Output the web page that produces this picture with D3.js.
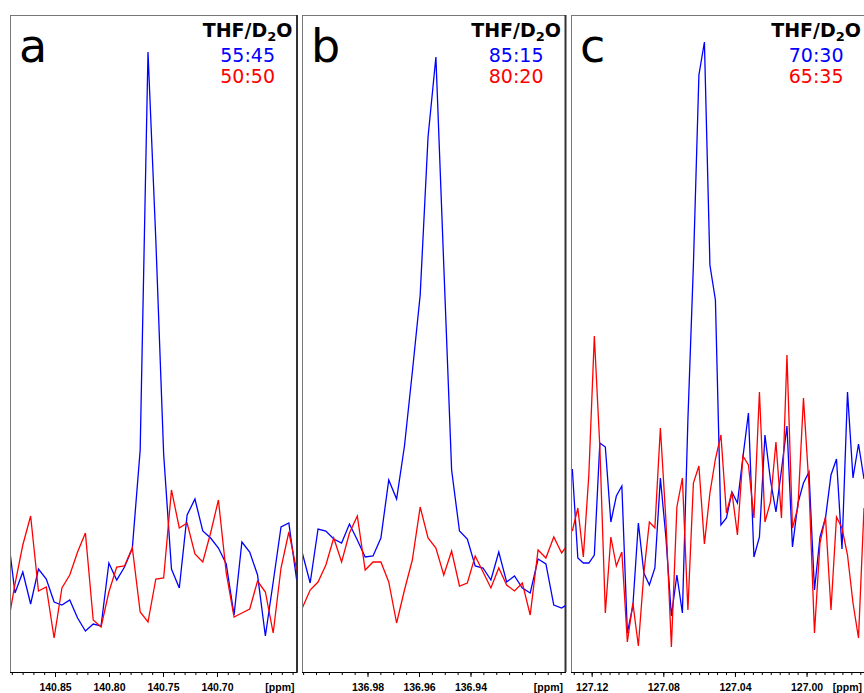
<!DOCTYPE html>
<html>
<head>
<meta charset="utf-8">
<script src="https://cdn.jsdelivr.net/npm/d3@7"></script>
<style>
    body { margin: 0; background: #fff; }
    svg { display: block; }
</style>
</head>
<body>
<div id="chart"></div>
<script>
const blueColor = "#0000ff";
const redColor = "#ff0000";

// panel a: 13C shift grid (first point, spacing in ppm) and intensities (a.u.)
const shiftStartA = 140.8943, shiftStepA = 0.007245;
const blueA = [143, 79, 100, 68, 103, 93, 70, 67, 72, 54, 41, 48, 46, 109, 92, 105, 124, 222, 620, 432,
    218, 103, 84, 157, 173, 141, 134, 124, 108, 57, 130, 120, 97, 36, 90, 145, 149, 92];
const redA = [43, 88, 127, 156, 81, 85, 34, 84, 97, 120, 139, 52, 45, 80, 105, 106, 124, 60, 50, 93,
    94, 182, 144, 149, 118, 110, 139, 172, 99, 55, 59, 63, 91, 80, 39, 104, 140, 102];
const ratiosA = ["55:45", "50:50"];
const labelsA = ["140.85", "140.80", "140.75", "140.70"];

// panel b
const shiftStartB = 137.00532, shiftStepB = 0.003052;
const blueB = [119, 89, 143, 141, 133, 129, 148, 132, 115, 116, 134, 192, 173, 226, 300, 377, 535, 615, 407, 202,
    141, 133, 106, 104, 92, 120, 90, 96, 84, 79, 113, 108, 67, 64, 69];
const redB = [64, 82, 90, 107, 134, 110, 139, 156, 102, 110, 110, 90, 49, 82, 112, 165, 134, 124, 97, 121,
    86, 89, 116, 100, 84, 104, 87, 81, 89, 57, 122, 114, 135, 119, 130];
const ratiosB = ["85:15", "80:20"];
const labelsB = ["136.98", "136.96", "136.94"];

// panel c
const shiftStartC = 127.1308, shiftStepC = 0.003073;
const blueC = [203, 114, 109, 109, 117, 229, 225, 150, 176, 186, 39, 66, 149, 99, 87, 104, 194, 135, 56, 97,
    59, 252, 407, 597, 630, 407, 372, 147, 154, 180, 169, 215, 259, 115, 135, 237, 192, 160, 202, 246,
    125, 169, 189, 200, 82, 135, 154, 197, 213, 123, 280, 194, 228, 193];
const redC = [141, 164, 115, 197, 336, 225, 59, 135, 106, 120, 30, 69, 26, 99, 150, 144, 244, 152, 25, 165,
    194, 62, 189, 206, 128, 179, 213, 237, 159, 180, 137, 216, 207, 154, 280, 150, 170, 230, 154, 317,
    144, 165, 274, 186, 39, 129, 155, 62, 155, 144, 117, 69, 34, 164];
const ratiosC = ["70:30", "65:35"];
const labelsC = ["127.12", "127.08", "127.04", "127.00"];

const width = 864, height = 693;
const plotTop = 15, plotBottom = 672;

const panels = [
    { name: "a", left: 10, right: 297.5, domain: [140.89167, 140.62546], minor: 0.01,
      start: shiftStartA, step: shiftStepA, blue: blueA, red: redA, ratios: ratiosA, labels: labelsA },
    { name: "b", left: 302, right: 566, domain: [137.00544, 136.90291], minor: 0.005,
      start: shiftStartB, step: shiftStepB, blue: blueB, red: redB, ratios: ratiosB, labels: labelsB },
    { name: "c", left: 571, right: 866, domain: [127.13154, 126.96682], minor: 0.005,
      start: shiftStartC, step: shiftStepC, blue: blueC, red: redC, ratios: ratiosC, labels: labelsC }
];

const svg = d3.select("#chart").append("svg")
    .attr("width", width)
    .attr("height", height);

const y = d3.scaleLinear().domain([0, 657]).range([plotBottom, plotTop]);

panels.forEach(p => {
    const g = svg.append("g");
    const x = d3.scaleLinear().domain(p.domain).range([p.left, p.right]);

    // frame
    g.append("rect")
        .attr("x", p.left + 0.5).attr("y", plotTop + 0.5)
        .attr("width", p.right - p.left - 1).attr("height", plotBottom - plotTop)
        .attr("fill", "none")
        .attr("stroke", "#777")
        .attr("stroke-width", 1);
    g.append("line")
        .attr("x1", p.right - 0.5).attr("x2", p.right - 0.5)
        .attr("y1", plotTop).attr("y2", plotBottom)
        .attr("stroke", "#333")
        .attr("stroke-width", 2);

    // clip the spectra to the frame
    const clipId = `clip-${p.name}`;
    svg.append("clipPath").attr("id", clipId)
        .append("rect")
        .attr("x", p.left + 1).attr("y", plotTop + 1)
        .attr("width", p.right - p.left - 2).attr("height", plotBottom - plotTop - 1);

    const line = d3.line()
        .x((d, i) => x(p.start - i * p.step))
        .y(d => y(d));

    g.append("path")
        .attr("clip-path", `url(#${clipId})`)
        .attr("d", line(p.blue))
        .attr("fill", "none")
        .attr("stroke", blueColor)
        .attr("stroke-width", 1.3);
    g.append("path")
        .attr("clip-path", `url(#${clipId})`)
        .attr("d", line(p.red))
        .attr("fill", "none")
        .attr("stroke", redColor)
        .attr("stroke-width", 1.3);

    // minor ticks
    const hi = Math.floor(p.domain[0] / p.minor + 1e-6);
    const lo = Math.ceil(p.domain[1] / p.minor - 1e-6);
    const minorTicks = d3.range(lo, hi + 1).map(k => k * p.minor);
    const majorTicks = p.labels.map(Number);

    const minorAxis = d3.axisBottom(x).tickValues(minorTicks).tickSize(3).tickFormat("");
    const gMinor = g.append("g").attr("transform", `translate(0,${plotBottom})`).call(minorAxis);
    gMinor.select(".domain").remove();
    gMinor.selectAll("line").attr("stroke", "#000");

    const majorAxis = d3.axisBottom(x).tickValues(majorTicks).tickSize(5).tickPadding(7)
        .tickFormat((d, i) => p.labels[i]);
    const gMajor = g.append("g").attr("transform", `translate(0,${plotBottom})`).call(majorAxis);
    gMajor.select(".domain")
        .attr("d", `M${p.left},0.5H${p.right}`)
        .attr("stroke", "#000");
    gMajor.selectAll("line").attr("stroke", "#000");
    gMajor.selectAll("text")
        .attr("font-family", "Liberation Sans, Arial, sans-serif")
        .attr("font-weight", "bold")
        .attr("font-size", "10.5px")
        .attr("fill", "#000");

    g.append("text")
        .attr("x", Math.min(p.right - 3, width - 2))
        .attr("y", 691)
        .style("text-anchor", "end")
        .attr("font-family", "Liberation Sans, Arial, sans-serif")
        .attr("font-weight", "bold")
        .attr("font-size", "10.5px")
        .text("[ppm]");

    // panel letter
    g.append("text")
        .attr("x", p.left + 9)
        .attr("y", 62)
        .attr("font-family", "DejaVu Sans, sans-serif")
        .attr("font-size", "46px")
        .attr("fill", "#000")
        .text(p.name);

    // solvent legend
    const thf = g.append("text")
        .attr("x", p.right - 5)
        .attr("y", 37)
        .style("text-anchor", "end")
        .attr("font-family", "DejaVu Sans, sans-serif")
        .attr("font-weight", "bold")
        .attr("font-size", "19px");
    thf.append("tspan").text("THF/D");
    thf.append("tspan").attr("font-size", "13px").attr("dy", 4).text("2");
    thf.append("tspan").attr("dy", -4).text("O");
    const bb = thf.node().getBBox();
    const cx = bb.x + bb.width / 2;

    [blueColor, redColor].forEach((c, i) => {
        g.append("text")
            .attr("x", cx)
            .attr("y", 62 + i * 21)
            .style("text-anchor", "middle")
            .attr("font-family", "DejaVu Sans, sans-serif")
            .attr("font-size", "19px")
            .attr("fill", c)
            .text(p.ratios[i]);
    });
});
</script>
</body>
</html>
